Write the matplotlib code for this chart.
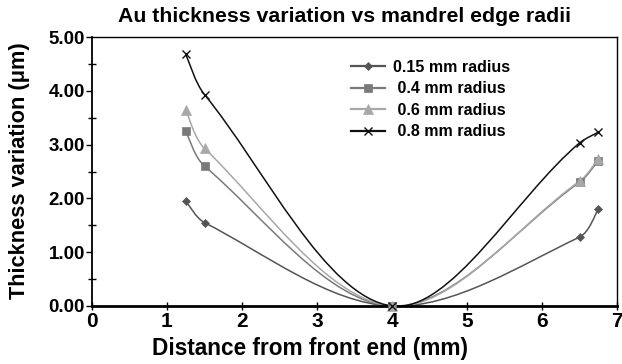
import numpy as np
import matplotlib
matplotlib.use("Agg")
import matplotlib.pyplot as plt
from matplotlib.path import Path
from matplotlib.patches import PathPatch
from matplotlib.lines import Line2D
from matplotlib.ticker import MultipleLocator, FormatStrFormatter

# -----------------------------
# DATA
# -----------------------------
distance = [1.25, 1.5, 4.0, 6.5, 6.75]

r015 = [1.95, 1.55, 0.0, 1.28, 1.80]
r04 = [3.25, 2.60, 0.0, 2.30, 2.70]
r06 = [3.65, 2.93, 0.0, 2.32, 2.73]
r08 = [4.68, 3.93, 0.0, 3.03, 3.23]

labels = ["0.15 mm radius", " 0.4 mm radius", " 0.6 mm radius", " 0.8 mm radius"]

# -----------------------------
# STYLE
# -----------------------------
plt.rcParams["font.family"] = ["Liberation Sans", "DejaVu Sans"]
plt.rcParams["font.weight"] = "bold"

styles = [
    dict(color="#555555", marker="D", ms=4.5),
    dict(color="#7a7a7a", marker="s", ms=6),
    dict(color="#a8a8a8", marker="^", ms=6.5),
    dict(color="#111111", marker="x", ms=6, mew=1.0),
]


def smooth_path(xs, ys, xscale=1.4):
    # smoothed line like a spreadsheet chart: cubic bezier through the points,
    # tangents weighted by segment length so short segments don't overshoot
    pts = np.column_stack([xs, ys]).astype(float)
    n = len(pts)
    d = np.hypot(np.diff(pts[:, 0]) * xscale, np.diff(pts[:, 1]))
    verts = [pts[0]]
    codes = [Path.MOVETO]
    for i in range(n - 1):
        p1, p2 = pts[i], pts[i + 1]
        if i == 0:
            c1 = p1 + (p2 - p1) / 6.0
        else:
            c1 = p1 + (p2 - pts[i - 1]) * d[i] / (d[i - 1] + d[i]) / 3.0
        if i + 2 >= n:
            c2 = p2 - (p2 - p1) / 6.0
        else:
            c2 = p2 - (pts[i + 2] - p1) * d[i] / (d[i] + d[i + 1]) / 3.0
        verts += [c1, c2, p2]
        codes += [Path.CURVE4] * 3
    return Path(verts, codes)


fig = plt.figure(figsize=(6.22, 3.64), dpi=100)
ax = fig.add_axes([92 / 622, 1 - 306 / 364, 525 / 622, 269 / 364])

handles = []
for ys, st, lab in zip([r015, r04, r06, r08], styles, labels):
    ax.add_patch(PathPatch(smooth_path(distance, ys), facecolor="none",
                           edgecolor=st["color"], lw=1.1, zorder=2))
    ax.plot(distance, ys, linestyle="none", marker=st["marker"],
            ms=st["ms"], color=st["color"], mew=st.get("mew", 0.5),
            zorder=3, clip_on=False)
    handles.append(Line2D([], [], color=st["color"], lw=1.6,
                          marker=st["marker"], ms=st["ms"],
                          mew=st.get("mew", 0.5), label=lab))

ax.set_xlim(0, 7)
ax.set_ylim(0, 5)
ax.xaxis.set_major_locator(MultipleLocator(1))
ax.yaxis.set_major_locator(MultipleLocator(1))
ax.yaxis.set_minor_locator(MultipleLocator(0.5))
ax.yaxis.set_major_formatter(FormatStrFormatter("%.2f"))

ax.tick_params(axis="x", direction="inout", length=6, width=1, pad=1,
               labelsize=15)
ax.tick_params(axis="y", which="major", direction="out", length=4, width=1,
               pad=1, labelsize=13.5)
ax.tick_params(axis="y", which="minor", direction="inout", length=6, width=1)

for s in ["top", "right"]:
    ax.spines[s].set_linewidth(1.0)
ax.spines["left"].set_linewidth(1.3)
ax.spines["bottom"].set_linewidth(2.0)

leg = ax.legend(handles=handles, loc="upper left",
                bbox_to_anchor=((351 - 92) / 525, (306 - 60) / 269),
                frameon=False, fontsize=11.5, handlelength=2.1,
                handletextpad=0.5, labelspacing=0.4, borderpad=0,
                borderaxespad=0)

fig.text(345 / 622, 1 - 17 / 364,
         "Au thickness variation vs mandrel edge radii",
         ha="center", va="center", fontsize=15.3, fontweight="bold")
fig.text(310 / 622, 1 - 349 / 364, "Distance from front end (mm)",
         ha="center", va="center", fontsize=16.3, fontweight="bold")
fig.text(20 / 622, 1 - 171 / 364, "Thickness variation (\u03bcm)",
         ha="center", va="center", rotation=90, fontsize=15.7,
         fontweight="bold")

fig.savefig("out.png", dpi=100)
